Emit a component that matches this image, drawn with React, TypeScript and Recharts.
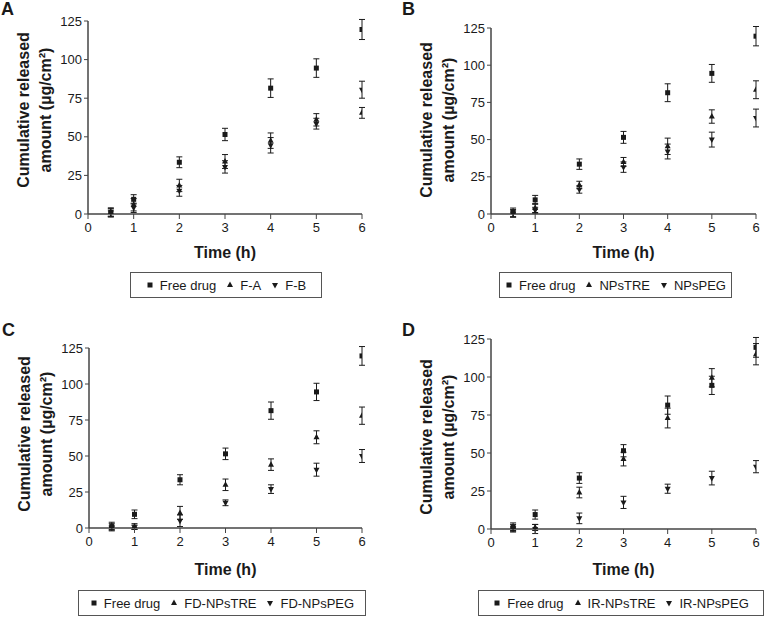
import React from 'react';
import { ScatterChart, Scatter, XAxis, YAxis, ErrorBar, Label } from 'recharts';

// sampling times (h)
const timePoints = [0.5, 1, 2, 3, 4, 5, 6];
const xTicks = [0, 1, 2, 3, 4, 5, 6];
const yTicks = [0, 25, 50, 75, 100, 125];

// free drug is the same reference group in every panel
const freeDrug = [1, 9.5, 33.5, 51.5, 81.5, 94.5, 119.5];
const freeDrugErr = [3, 3, 3.5, 4, 6, 6, 6.5];

// panel A
const formA = [1, 6, 18.5, 34, 47.5, 61, 65.5];
const formAErr = [2.5, 4, 4, 4.5, 5, 4, 3.5];
const formB = [0.5, 4, 15, 30.5, 44.5, 58.5, 80.5];
const formBErr = [2, 3, 3.5, 4, 5, 3.5, 5.5];

// panel B
const npsTre = [0.5, 4, 19.5, 35, 45.5, 65.5, 83.5];
const npsTreErr = [2.5, 3, 2.5, 3, 5.5, 4.5, 6];
const npsPeg = [0, 2.5, 16.5, 31.5, 42, 50, 64.5];
const npsPegErr = [2, 2, 2.5, 3.5, 5, 5, 6];

// panel C
const fdTre = [1, 1, 10.5, 30, 44, 63, 78];
const fdTreErr = [2, 2, 4.5, 4, 4, 4.5, 6];
const fdPeg = [0, 0.5, 5, 17.5, 27, 40.5, 50];
const fdPegErr = [1.5, 1.5, 4, 2, 3, 4.5, 4.5];

// panel D
const irTre = [1, 1, 24, 46, 73, 99.5, 115];
const irTreErr = [2, 2, 3.5, 4.5, 6.5, 6, 7];
const irPeg = [0, 0, 7, 17.5, 26.5, 33.5, 41];
const irPegErr = [1.5, 3, 3.5, 4, 3, 4.5, 4];

const INK = '#1a1a1a';
const AXIS = '#444';
const FONT = '"Liberation Sans", Arial, sans-serif';

type Marker = 'square' | 'up' | 'down';

const toPoints = (vals: number[], errs: number[]) =>
  timePoints.map((x, i) => ({ x, y: vals[i], err: errs[i] }));

const drawMarker = (kind: Marker, cx: number, cy: number) => {
  if (kind === 'square') return <rect x={cx - 2.5} y={cy - 2.5} width={5} height={5} fill={INK} />;
  if (kind === 'up') return <path d={`M${cx},${cy - 3.5}L${cx + 3},${cy + 2}L${cx - 3},${cy + 2}Z`} fill={INK} />;
  return <path d={`M${cx},${cy + 3.5}L${cx + 3},${cy - 2}L${cx - 3},${cy - 2}Z`} fill={INK} />;
};

interface Series {
  name: string;
  marker: Marker;
  vals: number[];
  errs: number[];
}

interface PanelProps {
  letter: string;
  x: number;
  y: number;
  height: number;
  plot: { left: number; top: number; right: number; bottom: number };
  legend: { left: number; top: number; width: number };
  letterPos: { left: number; top: number };
  xLabelDy: number;
  yLabelMid: number;
  series: Series[];
}

const W = 384;

const Panel: React.FC<PanelProps> = ({ letter, x, y, height, plot, legend, letterPos, xLabelDy, yLabelMid, series }) => {
  const midY = yLabelMid;
  const midX = (plot.left + plot.right) / 2;

  const yLabel = () => (
    <g fontFamily={FONT} fontWeight="bold" fontSize={16} fill={INK}>
      <text x={plot.left - 65} y={midY} textAnchor="middle" dominantBaseline="central"
        transform={`rotate(-90, ${plot.left - 65}, ${midY})`}>Cumulative released</text>
      <text x={plot.left - 43} y={midY} textAnchor="middle" dominantBaseline="central"
        transform={`rotate(-90, ${plot.left - 43}, ${midY})`}>amount (µg/cm²)</text>
    </g>
  );

  const xLabel = () => (
    <text x={midX} y={plot.bottom + xLabelDy} textAnchor="middle" dominantBaseline="central"
      fontFamily={FONT} fontWeight="bold" fontSize={16} fill={INK}>Time (h)</text>
  );

  return (
    <div style={{ position: 'absolute', left: x, top: y, width: W, height }}>
      <div style={{ position: 'absolute', left: letterPos.left, top: letterPos.top, fontFamily: FONT,
        fontWeight: 'bold', fontSize: 18, lineHeight: '18px', color: INK }}>{letter}</div>
      <ScatterChart width={W} height={height}
        margin={{ top: plot.top, right: W - plot.right, bottom: height - plot.bottom - 30, left: plot.left - 40 }}>
        <XAxis dataKey="x" type="number" domain={[0, 6]} ticks={xTicks} allowDataOverflow
          axisLine={{ stroke: AXIS, strokeWidth: 1.5 }} tickLine={{ stroke: AXIS }} tickSize={5} tickMargin={4}
          tick={{ fontSize: 13, fill: INK, fontFamily: FONT }} height={30}>
          <Label content={xLabel} />
        </XAxis>
        <YAxis dataKey="y" type="number" domain={[0, 125]} ticks={yTicks} allowDataOverflow
          axisLine={{ stroke: AXIS, strokeWidth: 1.5 }} tickLine={{ stroke: AXIS }} tickSize={4} tickMargin={2}
          tick={{ fontSize: 13, fill: INK, fontFamily: FONT }} width={40}>
          <Label content={yLabel} />
        </YAxis>
        {series.map(s => (
          <Scatter key={s.name} name={s.name} data={toPoints(s.vals, s.errs)} isAnimationActive={false}
            shape={(p: any) => drawMarker(s.marker, p.cx, p.cy)}>
            <ErrorBar dataKey="err" direction="y" width={3} stroke={INK} strokeWidth={1} isAnimationActive={false} />
          </Scatter>
        ))}
      </ScatterChart>
      <div style={{ position: 'absolute', left: legend.left, top: legend.top, width: legend.width, height: 26,
        boxSizing: 'border-box', border: '1px solid #555', display: 'flex', alignItems: 'center',
        justifyContent: 'center', fontFamily: FONT, fontSize: 13, color: INK }}>
        {series.map((s, i) => (
          <span key={s.name} style={{ display: 'flex', alignItems: 'center', marginLeft: i ? 10 : 0 }}>
            <svg width={8} height={8} style={{ marginRight: 6 }}>{drawMarker(s.marker, 4, 4)}</svg>
            {s.name}
          </span>
        ))}
      </div>
    </div>
  );
};

const free: Series = { name: 'Free drug', marker: 'square', vals: freeDrug, errs: freeDrugErr };

export default function App() {
  return (
    <div style={{ position: 'absolute', left: 0, top: 0, width: 768, height: 617, background: '#fff' }}>
      <Panel letter="A" x={0} y={0} height={310}
        plot={{ left: 88, top: 21, right: 362, bottom: 214 }} yLabelMid={110}
        legend={{ left: 130, top: 272, width: 192 }} letterPos={{ left: 1, top: 0 }} xLabelDy={38}
        series={[free,
          { name: 'F-A', marker: 'up', vals: formA, errs: formAErr },
          { name: 'F-B', marker: 'down', vals: formB, errs: formBErr }]} />
      <Panel letter="B" x={384} y={0} height={310}
        plot={{ left: 107, top: 28, right: 372, bottom: 214 }} yLabelMid={120}
        legend={{ left: 115, top: 272, width: 233 }} letterPos={{ left: 18, top: 0 }} xLabelDy={38}
        series={[free,
          { name: 'NPsTRE', marker: 'up', vals: npsTre, errs: npsTreErr },
          { name: 'NPsPEG', marker: 'down', vals: npsPeg, errs: npsPegErr }]} />
      <Panel letter="C" x={0} y={310} height={307}
        plot={{ left: 89, top: 38, right: 362, bottom: 218 }} yLabelMid={124}
        legend={{ left: 78, top: 280, width: 288 }} letterPos={{ left: 2, top: 11 }} xLabelDy={41}
        series={[free,
          { name: 'FD-NPsTRE', marker: 'up', vals: fdTre, errs: fdTreErr },
          { name: 'FD-NPsPEG', marker: 'down', vals: fdPeg, errs: fdPegErr }]} />
      <Panel letter="D" x={384} y={310} height={307}
        plot={{ left: 107, top: 29, right: 372, bottom: 219 }} yLabelMid={127}
        legend={{ left: 94, top: 280, width: 286 }} letterPos={{ left: 18, top: 11 }} xLabelDy={40}
        series={[free,
          { name: 'IR-NPsTRE', marker: 'up', vals: irTre, errs: irTreErr },
          { name: 'IR-NPsPEG', marker: 'down', vals: irPeg, errs: irPegErr }]} />
    </div>
  );
}
